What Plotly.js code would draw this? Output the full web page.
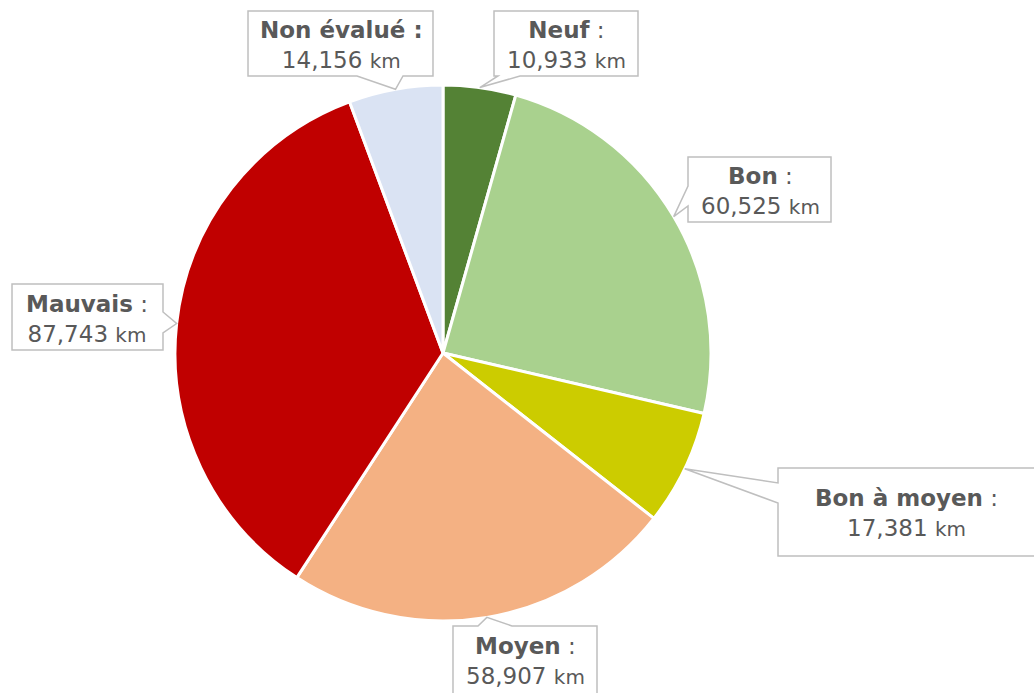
<!DOCTYPE html>
<html>
<head>
<meta charset="utf-8">
<script src="https://cdn.plot.ly/plotly-3.0.1.min.js"></script>
<style>html,body{margin:0;padding:0;background:#fff;}#chart{width:1034px;height:693px;}</style>
</head>
<body>
<div id="chart"></div>
<script>
// Data
const categories = ["Neuf", "Bon", "Bon à moyen", "Moyen", "Mauvais", "Non évalué"];
const values = [10.933, 60.525, 17.381, 58.907, 87.743, 14.156];
const colors = ["#548235", "#A9D18E", "#CCCC00", "#F4B183", "#C00000", "#DAE3F3"];

// Layout constants (pixels)
const W = 1034, H = 693;
const CX = 443, CY = 353, R = 268;
const px = x => x / W;
const py = y => 1 - y / H;

// Callout boxes: [left, top, right, bottom], side of wedge, wedge base, text center
const boxes = [
  {box: [494, 11, 638, 76], side: "bottom", base: [498, 520], tc: [566, 45], boldColon: false},
  {box: [688, 157, 831, 222], side: "left", base: [186, 206], tc: [760, 191], boldColon: false},
  {box: [778, 468, 1040, 556], side: "left", base: [483, 503], tc: [906, 513], boldColon: false},
  {box: [453, 626, 597, 700], side: "top", base: [478, 512], tc: [525, 661], boldColon: false},
  {box: [12, 284, 163, 350], side: "right", base: [312, 333], tc: [87, 319], boldColon: false},
  {box: [248, 11, 433, 76], side: "bottom", base: [357, 403], tc: [341, 45], boldColon: true}
];

const total = values.reduce((a, b) => a + b, 0);
let cum = 0;
const tips = values.map(v => {
  const mid = (cum + v / 2) / total;
  cum += v;
  const a = mid * 2 * Math.PI;
  return [CX + R * Math.sin(a), CY - R * Math.cos(a)];
});

function calloutPath(b, tip) {
  const [l, t, r, bo] = b.box;
  const [b1, b2] = b.base;
  let pts;
  if (b.side === "bottom") pts = [[l, t], [r, t], [r, bo], [b2, bo], tip, [b1, bo], [l, bo]];
  else if (b.side === "top") pts = [[l, t], [b1, t], tip, [b2, t], [r, t], [r, bo], [l, bo]];
  else if (b.side === "left") pts = [[l, t], [r, t], [r, bo], [l, bo], [l, b2], tip, [l, b1]];
  else pts = [[l, t], [r, t], [r, b1], tip, [r, b2], [r, bo], [l, bo]];
  return "M" + pts.map(p => px(p[0]).toFixed(5) + "," + py(p[1]).toFixed(5)).join(" L") + " Z";
}

const fmt = v => v.toFixed(3).replace(".", ",");

const shapes = boxes.map((b, i) => ({
  type: "path", xref: "paper", yref: "paper", layer: "above",
  path: calloutPath(b, tips[i]),
  fillcolor: "#FFFFFF", line: {color: "#BFBFBF", width: 1.5}
}));

const annotations = boxes.map((b, i) => ({
  xref: "paper", yref: "paper", x: px(b.tc[0]), y: py(b.tc[1]),
  xanchor: "center", yanchor: "middle", showarrow: false, align: "center",
  text: (b.boldColon ? "<b>" + categories[i] + " :</b>" : "<b>" + categories[i] + "</b> :") +
        "<br>" + fmt(values[i]) + " <span style='font-size:20px'>km</span>",
  font: {family: "DejaVu Sans, Verdana, sans-serif", size: 23, color: "#595959"}
}));

const trace = {
  type: "pie", labels: categories, values: values, sort: false,
  direction: "clockwise", rotation: 0,
  marker: {colors: colors, line: {color: "#FFFFFF", width: 3}},
  textinfo: "none", hoverinfo: "label+value", showlegend: false,
  domain: {x: [px(CX - R), px(CX + R)], y: [py(CY + R), py(CY - R)]}
};

Plotly.newPlot("chart", [trace], {
  width: W, height: H, margin: {l: 0, r: 0, t: 0, b: 0},
  paper_bgcolor: "#FFFFFF", showlegend: false,
  shapes: shapes, annotations: annotations
}, {displayModeBar: false, staticPlot: true});
</script>
</body>
</html>
